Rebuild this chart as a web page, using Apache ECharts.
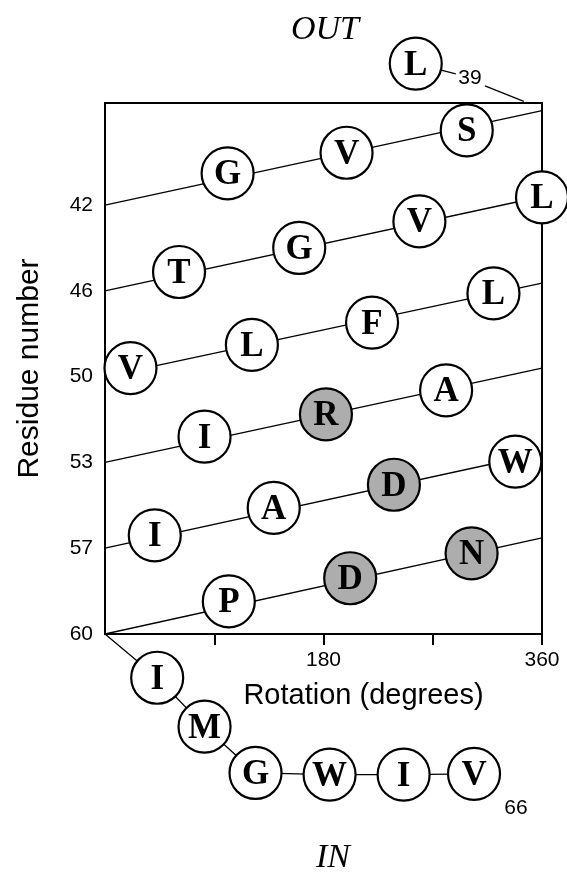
<!DOCTYPE html>
<html><head><meta charset="utf-8">
<script src="https://cdn.jsdelivr.net/npm/echarts@6/dist/echarts.min.js"></script>
<style>html,body{margin:0;padding:0;background:#fff}#chart{width:567px;height:877px}</style>
</head><body><div id="chart"></div>
<script>
// Residues 39..66 of the helix (helical net)
const residueNumbers = [39,40,41,42,43,44,45,46,47,48,49,50,51,52,53,54,55,56,57,58,59,60,61,62,63,64,65,66];
const residueLetters = ['L','S','V','G','L','V','G','T','L','F','L','V','A','R','I','W','D','A','I','N','D','P','I','M','G','W','I','V'];
// rotation (degrees)
const residueAngles = [256,298,199,101,360,259,160,61,320,220,121,21,281,182,82,338,238,139,41,302,202,102,43,82,124,185,246,304];
// vertical position in helix-turn units (0 = bottom line start)
const residueHeights = [6.65,5.87,5.61,5.37,5.09,4.81,4.50,4.22,3.97,3.63,3.37,3.10,2.84,2.56,2.30,2.01,1.74,1.47,1.15,0.94,0.65,0.38,-0.51,-1.08,-1.62,-1.64,-1.64,-1.63];
const shadedResidues = [52,55,58,59];

// helix net lines: start at 0 deg, end at 360 deg
const rowLabels = ['60','57','53','50','46','42'];
const rowStartHeights = [0,1,2,3,4,5];
const rowEndHeights = [1.12,2.11,3.10,4.09,5.10,6.10];

// x axis ticks / labels
const xTickValues = [90,180,270,360];
const xLabelValues = [180,360];

// residue number tags outside the frame
const tagTexts = ['39','66'];
const tagAngles = [300.7,338.6];
const tagHeights = [6.48,-2.03];

// connector from residue 39 to the frame (split around the "39" tag)
const outLinkA = [[256,6.65],[289,6.53]];
const outLinkB = [[313,6.39],[345,6.21]];
// bottom corner where the chain leaves the net
const netCorner = [0,0];

const chart = echarts.init(document.getElementById('chart'));
const LINE = {color:'#000', width:1.3, opacity:1};

const series = [];
rowStartHeights.forEach((s,i)=>{
  series.push({type:'line', data:[[0,s],[360,rowEndHeights[i]]], symbol:'none', silent:true,
    lineStyle:LINE, z:1, clip:false, animation:false});
});
const tailIn = [netCorner];
residueNumbers.forEach((n,i)=>{ if(n>=61) tailIn.push([residueAngles[i], residueHeights[i]]); });
series.push({type:'line', data:tailIn, symbol:'none', lineStyle:LINE, z:1, clip:false, animation:false});
series.push({type:'line', data:outLinkA, symbol:'none', lineStyle:LINE, z:1, clip:false, animation:false});
series.push({type:'line', data:outLinkB, symbol:'none', lineStyle:LINE, z:1, clip:false, animation:false});

series.push({
  type:'scatter', clip:false, z:5, animation:false, symbol:'circle', symbolSize:52,
  data: residueNumbers.map((n,i)=>({
    value:[residueAngles[i], residueHeights[i]], name:residueLetters[i],
    itemStyle:{color: shadedResidues.includes(n) ? '#adadad' : '#ffffff', borderColor:'#000', borderWidth:2.2, opacity:1}
  })),
  itemStyle:{opacity:1},
  emphasis:{disabled:true},
  label:{show:true, position:'inside', formatter:p=>p.name, color:'#000', opacity:1, offset:[0,2],
    fontFamily:'"Liberation Serif", serif', fontWeight:'bold', fontSize:35}
});
series.push({
  type:'scatter', clip:false, z:5, animation:false, symbolSize:1,
  itemStyle:{opacity:0},
  emphasis:{disabled:true},
  data: tagTexts.map((t,i)=>({value:[tagAngles[i], tagHeights[i]], name:t})),
  label:{show:true, position:'inside', formatter:p=>p.name, color:'#000', opacity:1,
    fontFamily:'"Liberation Sans", Arial, sans-serif', fontSize:21}
});

const SANS = '"Liberation Sans", Arial, sans-serif';
chart.setOption({
  animation:false,
  backgroundColor:'#fff',
  grid:{left:105, right:25, top:103, bottom:243, show:true, borderColor:'#000', borderWidth:2, backgroundColor:'transparent'},
  xAxis:{type:'value', min:0, max:360, interval:90,
    axisLine:{show:true, lineStyle:{color:'#000', width:2}},
    axisTick:{show:true, customValues:xTickValues, length:11, lineStyle:{color:'#000', width:2}},
    splitLine:{show:false},
    axisLabel:{customValues:xLabelValues, showMaxLabel:true, color:'#000', fontSize:21, margin:16, fontFamily:SANS},
    name:'Rotation (degrees)', nameLocation:'middle', nameGap:47,
    nameTextStyle:{color:'#000', fontSize:29, fontFamily:SANS, padding:[0,0,0,80]}
  },
  yAxis:{type:'value', min:0, max:6.19, interval:1,
    axisLine:{show:true, lineStyle:{color:'#000', width:2}},
    axisTick:{show:false}, splitLine:{show:false},
    axisLabel:{color:'#000', fontSize:21, margin:12, fontFamily:SANS,
      formatter:v=>{const k=Math.round(v); return Math.abs(v-k)<1e-6 && rowLabels[k] ? rowLabels[k] : '';}},
    name:'Residue number', nameLocation:'middle', nameGap:60, nameRotate:90,
    nameTextStyle:{color:'#000', fontSize:30, fontFamily:SANS}
  },
  graphic:[
    {type:'text', style:{text:'OUT', x:325, y:30, align:'center', verticalAlign:'middle',
      fontFamily:'"Liberation Serif", serif', fontStyle:'italic', fontSize:34, fill:'#000'}},
    {type:'text', style:{text:'IN', x:333, y:858, align:'center', verticalAlign:'middle',
      fontFamily:'"Liberation Serif", serif', fontStyle:'italic', fontSize:34, fill:'#000'}}
  ],
  series: series
});
</script></body></html>
